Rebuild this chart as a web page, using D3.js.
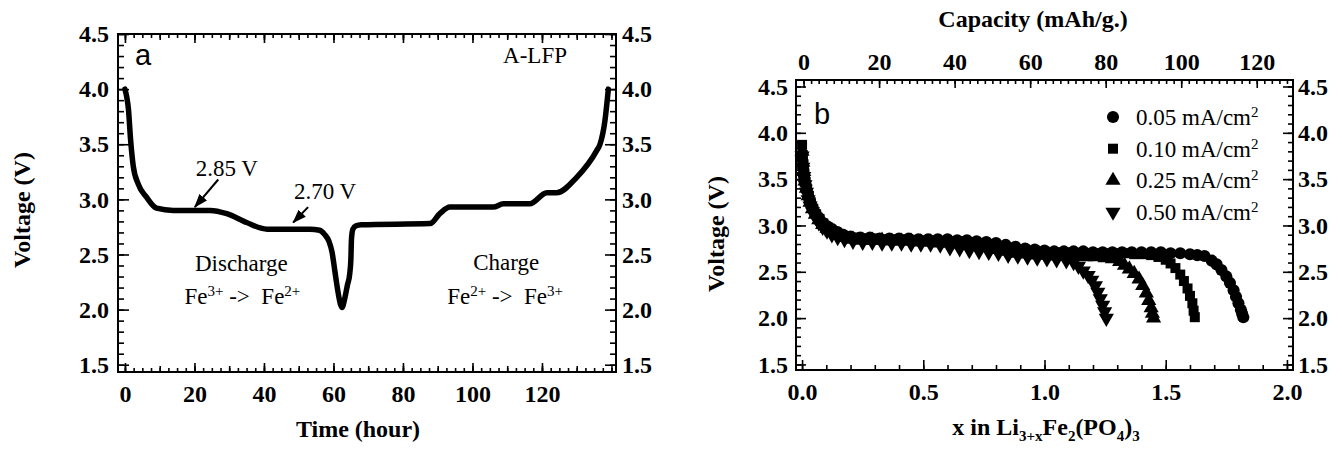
<!DOCTYPE html>
<html>
<head>
<meta charset="utf-8">
<script src="https://cdn.jsdelivr.net/npm/d3@7"></script>
<style>
  body { margin: 0; background: #fff; }
  svg { display: block; }
  text { font-family: "Liberation Serif", "Times New Roman", serif; fill: #000; white-space: pre; }
  .tick text { font-weight: bold; font-size: 24px; }
  .tick line { stroke: #000; stroke-width: 1.6; }
</style>
</head>
<body>
<script>
// ---- data ----
const voltTicks = [1.5, 2.0, 2.5, 3.0, 3.5, 4.0, 4.5];
const timeTicks = [0, 20, 40, 60, 80, 100, 120];
const xTicks = [0, 0.5, 1.0, 1.5, 2.0];
const capTicks = [0, 20, 40, 60, 80, 100, 120];

// panel a : [time (h), voltage (V)]
const cycleA = [
  [0, 4.00], [0.5, 3.93], [1.0, 3.82], [1.6, 3.55], [2.4, 3.30], [3.8, 3.14], [6.2, 3.02],
  [9.1, 2.92], [13.9, 2.90], [24.5, 2.90], [29.3, 2.87], [35, 2.79], [40.9, 2.73], [53.2, 2.73],
  [56, 2.72], [57.5, 2.68], [58.7, 2.62], [59.6, 2.52], [60.4, 2.35], [61.2, 2.18], [62, 2.05],
  [62.5, 2.02], [63.1, 2.08], [64, 2.22], [64.7, 2.33], [65, 2.45], [65.2, 2.65], [65.6, 2.73],
  [66.5, 2.76], [68, 2.77], [87.8, 2.78], [90.6, 2.87], [93.5, 2.93], [106, 2.93], [108.9, 2.96],
  [116.5, 2.96], [121.4, 3.06], [124.2, 3.06], [130, 3.20], [135.7, 3.44], [136.7, 3.50],
  [138.1, 3.71], [139.1, 4.00]
];

// panel b : [x, voltage (V)] per current density
const rate005 = [
  [0, 3.72], [0.004, 3.62], [0.008, 3.53], [0.013, 3.45], [0.019, 3.38], [0.026, 3.31], [0.034, 3.25],
  [0.044, 3.19], [0.056, 3.13], [0.07, 3.08], [0.086, 3.03], [0.104, 2.99], [0.124, 2.96], [0.146, 2.93],
  [0.17, 2.90], [0.2, 2.88], [0.24, 2.87], [0.28, 2.87], [0.32, 2.86], [0.36, 2.86], [0.40, 2.86],
  [0.44, 2.86], [0.48, 2.85], [0.52, 2.85], [0.56, 2.85], [0.60, 2.85], [0.64, 2.84], [0.68, 2.84],
  [0.72, 2.83], [0.76, 2.82], [0.80, 2.81], [0.84, 2.79], [0.88, 2.77], [0.92, 2.75], [0.96, 2.74],
  [1.00, 2.73], [1.04, 2.72], [1.08, 2.72], [1.12, 2.72], [1.16, 2.72], [1.20, 2.71], [1.24, 2.71],
  [1.28, 2.71], [1.32, 2.71], [1.36, 2.71], [1.40, 2.71], [1.44, 2.71], [1.48, 2.71], [1.52, 2.70],
  [1.56, 2.70], [1.60, 2.69], [1.63, 2.68], [1.66, 2.67], [1.69, 2.62], [1.71, 2.58], [1.73, 2.52],
  [1.75, 2.45], [1.765, 2.38], [1.78, 2.30], [1.79, 2.23], [1.80, 2.16], [1.81, 2.09], [1.815, 2.05],
  [1.82, 2.01]
];
const rate010 = [
  [0, 3.87], [0.003, 3.76], [0.006, 3.66], [0.01, 3.56], [0.015, 3.47], [0.021, 3.39], [0.028, 3.32],
  [0.036, 3.25], [0.046, 3.18], [0.058, 3.12], [0.072, 3.07], [0.088, 3.02], [0.106, 2.98], [0.126, 2.94],
  [0.15, 2.91], [0.18, 2.88], [0.21, 2.87], [0.25, 2.86], [0.29, 2.86], [0.33, 2.85], [0.37, 2.85],
  [0.41, 2.85], [0.45, 2.84], [0.49, 2.84], [0.53, 2.84], [0.57, 2.83], [0.61, 2.83], [0.65, 2.83],
  [0.69, 2.82], [0.73, 2.81], [0.77, 2.80], [0.81, 2.78], [0.85, 2.76], [0.89, 2.74], [0.93, 2.73],
  [0.97, 2.72], [1.01, 2.71], [1.05, 2.71], [1.09, 2.71], [1.13, 2.70], [1.17, 2.70], [1.21, 2.70],
  [1.25, 2.70], [1.29, 2.70], [1.33, 2.70], [1.37, 2.69], [1.41, 2.69], [1.44, 2.68], [1.47, 2.66],
  [1.50, 2.63], [1.52, 2.59], [1.54, 2.54], [1.56, 2.47], [1.575, 2.40], [1.59, 2.32], [1.60, 2.24],
  [1.61, 2.16], [1.615, 2.08], [1.62, 2.01]
];
const rate025 = [
  [0, 3.80], [0.003, 3.68], [0.007, 3.58], [0.012, 3.48], [0.018, 3.40], [0.025, 3.32], [0.033, 3.25],
  [0.043, 3.18], [0.055, 3.12], [0.069, 3.06], [0.085, 3.01], [0.103, 2.97], [0.123, 2.93], [0.147, 2.90],
  [0.175, 2.87], [0.21, 2.85], [0.25, 2.84], [0.29, 2.84], [0.33, 2.84], [0.37, 2.83], [0.41, 2.83],
  [0.45, 2.83], [0.49, 2.82], [0.53, 2.82], [0.57, 2.81], [0.61, 2.81], [0.65, 2.80], [0.69, 2.79],
  [0.73, 2.78], [0.77, 2.76], [0.81, 2.74], [0.85, 2.72], [0.89, 2.70], [0.93, 2.69], [0.97, 2.68],
  [1.01, 2.68], [1.05, 2.67], [1.09, 2.67], [1.13, 2.67], [1.17, 2.66], [1.21, 2.66], [1.25, 2.65],
  [1.28, 2.64], [1.31, 2.61], [1.33, 2.57], [1.35, 2.53], [1.37, 2.48], [1.39, 2.42], [1.405, 2.35],
  [1.42, 2.27], [1.43, 2.19], [1.44, 2.11], [1.445, 2.05], [1.45, 2.00]
];
const rate050 = [
  [0, 3.75], [0.003, 3.63], [0.007, 3.53], [0.012, 3.44], [0.018, 3.36], [0.025, 3.28], [0.033, 3.21],
  [0.043, 3.15], [0.055, 3.09], [0.069, 3.03], [0.085, 2.98], [0.103, 2.94], [0.123, 2.90], [0.147, 2.87],
  [0.175, 2.85], [0.21, 2.83], [0.25, 2.82], [0.29, 2.82], [0.33, 2.81], [0.37, 2.81], [0.41, 2.81],
  [0.45, 2.80], [0.49, 2.80], [0.53, 2.80], [0.57, 2.79], [0.61, 2.76], [0.65, 2.75], [0.69, 2.73],
  [0.73, 2.72], [0.77, 2.71], [0.81, 2.70], [0.85, 2.68], [0.89, 2.67], [0.93, 2.66], [0.97, 2.65],
  [1.01, 2.64], [1.05, 2.63], [1.09, 2.62], [1.12, 2.60], [1.14, 2.56], [1.16, 2.51], [1.18, 2.46],
  [1.195, 2.41], [1.21, 2.35], [1.22, 2.28], [1.23, 2.21], [1.24, 2.14], [1.248, 2.07], [1.255, 2.00]
];
const rateLabels = ["0.05", "0.10", "0.25", "0.50"];

// ---- layout ----
const WIDTH = 1342, HEIGHT = 450;

const svg = d3.select("body").append("svg")
  .attr("width", WIDTH)
  .attr("height", HEIGHT);

const xa = d3.scaleLinear().domain([-2, 141.3]).range([118, 616]);
const ya = d3.scaleLinear().domain([1.434, 4.5]).range([372, 34]);
const xb = d3.scaleLinear().domain([-0.025, 2.025]).range([796, 1293]);
const cb = d3.scaleLinear().domain([-2, 129.6]).range([796, 1293]);
const yb = d3.scaleLinear().domain([1.44, 4.57]).range([370, 80]);

const f1 = d3.format(".1f");
const fi = d => d;
const none = () => "";

const addAxis = (gen, pos, isX, vals, size, pad, fmt) => {
  const g = svg.append("g")
    .attr("transform", isX ? `translate(0,${pos})` : `translate(${pos},0)`)
    .call(gen.tickValues(vals).tickSize(-size).tickPadding(pad).tickFormat(fmt));
  g.select(".domain").remove();
  return g;
};

const frame = (x, y) => {
  svg.append("rect")
    .attr("x", x.range()[0]).attr("y", y.range()[1])
    .attr("width", x.range()[1] - x.range()[0])
    .attr("height", y.range()[0] - y.range()[1])
    .attr("fill", "none").attr("stroke", "#000").attr("stroke-width", 2);
};

// ---------- panel a ----------
const minorV = d3.range(15, 46).map(d => d / 10);
const minorT = d3.range(0, 141, 2.5);
const midT = d3.range(0, 141, 10);

addAxis(d3.axisLeft(ya), 118, false, minorV, 6, 0, none);
addAxis(d3.axisLeft(ya), 118, false, voltTicks, 11, 9, f1);
addAxis(d3.axisRight(ya), 616, false, minorV, 6, 0, none);
addAxis(d3.axisRight(ya), 616, false, voltTicks, 11, 6, f1);
addAxis(d3.axisBottom(xa), 372, true, minorT, 4, 0, none);
addAxis(d3.axisBottom(xa), 372, true, midT, 6, 0, none);
addAxis(d3.axisBottom(xa), 372, true, timeTicks, 9, 13, fi);
addAxis(d3.axisTop(xa), 34, true, minorT, 4, 0, none);
addAxis(d3.axisTop(xa), 34, true, midT, 6, 0, none);
addAxis(d3.axisTop(xa), 34, true, timeTicks, 9, 0, none);
frame(xa, ya);

svg.append("path")
  .datum(cycleA)
  .attr("fill", "none")
  .attr("stroke", "#000")
  .attr("stroke-width", 5.5)
  .attr("stroke-linejoin", "round")
  .attr("stroke-linecap", "round")
  .attr("d", d3.line().x(d => xa(d[0])).y(d => ya(d[1])).curve(d3.curveMonotoneX));

// arrows
svg.append("defs").append("marker")
  .attr("id", "head")
  .attr("markerUnits", "userSpaceOnUse")
  .attr("markerWidth", 14).attr("markerHeight", 10)
  .attr("refX", 13).attr("refY", 5)
  .attr("orient", "auto")
  .append("path").attr("d", "M0,0L14,5L0,10Z").attr("fill", "#000");

const arrows = [
  { from: [26.85, 3.18], to: [20.1, 2.93] },
  { from: [52.7, 2.93], to: [48.4, 2.79] }
];
svg.selectAll(".arrow").data(arrows).join("line")
  .attr("class", "arrow")
  .attr("x1", d => xa(d.from[0])).attr("y1", d => ya(d.from[1]))
  .attr("x2", d => xa(d.to[0])).attr("y2", d => ya(d.to[1]))
  .attr("stroke", "#000").attr("stroke-width", 2)
  .attr("marker-end", "url(#head)");

const noteA = [
  { t: 29.3, v: 3.21, s: "2.85 V" },
  { t: 57.6, v: 3.00, s: "2.70 V" },
  { t: 118, v: 4.24, s: "A-LFP" },
  { t: 33.5, v: 2.35, s: "Discharge" },
  { t: 109.7, v: 2.36, s: "Charge" }
];
svg.selectAll(".noteA").data(noteA).join("text")
  .attr("class", "noteA")
  .attr("x", d => xa(d.t)).attr("y", d => ya(d.v))
  .attr("text-anchor", "middle")
  .attr("font-size", 23)
  .text(d => d.s);

const rich = (t, parts, small, up, down) => {
  let cur = 0;
  parts.forEach(([s, k]) => {
    const target = k === "sup" ? -up : k === "sub" ? down : 0;
    t.append("tspan")
      .attr("dy", target - cur)
      .attr("font-size", k ? small : null)
      .text(s);
    cur = target;
  });
};

const fe1 = svg.append("text")
  .attr("x", xa(33.8)).attr("y", ya(2.05))
  .attr("text-anchor", "middle").attr("font-size", 23);
rich(fe1, [["Fe"], ["3+", "sup"], [" ->  Fe"], ["2+", "sup"]], 15, 8, 0);

const fe2 = svg.append("text")
  .attr("x", xa(109.4)).attr("y", ya(2.05))
  .attr("text-anchor", "middle").attr("font-size", 23);
rich(fe2, [["Fe"], ["2+", "sup"], [" ->  Fe"], ["3+", "sup"]], 15, 8, 0);

svg.append("text")
  .attr("x", 143).attr("y", 65)
  .attr("text-anchor", "middle")
  .style("font-family", "'Liberation Sans', Arial, sans-serif")
  .attr("font-size", 29)
  .text("a");

svg.append("text")
  .attr("transform", "translate(30,210) rotate(-90)")
  .attr("text-anchor", "middle")
  .attr("font-size", 24).attr("font-weight", "bold")
  .text("Voltage (V)");

svg.append("text")
  .attr("x", 358).attr("y", 437)
  .attr("text-anchor", "middle")
  .attr("font-size", 24).attr("font-weight", "bold")
  .text("Time (hour)");

// ---------- panel b ----------
const minorX = d3.range(0, 21).map(d => d / 10);
const minorC = d3.range(0, 130, 2);

addAxis(d3.axisLeft(yb), 796, false, minorV, 5, 0, none);
addAxis(d3.axisLeft(yb), 796, false, voltTicks, 10, 8, f1);
addAxis(d3.axisRight(yb), 1293, false, minorV, 5, 0, none);
addAxis(d3.axisRight(yb), 1293, false, voltTicks, 10, 5, f1);
addAxis(d3.axisBottom(xb), 370, true, minorX, 5, 0, none);
addAxis(d3.axisBottom(xb), 370, true, xTicks, 10, 13, f1);
addAxis(d3.axisTop(cb), 80, true, minorC, 4, 0, none);
addAxis(d3.axisTop(cb), 80, true, capTicks, 8, 10, fi);
frame(xb, yb);

const seriesB = [
  { label: rateLabels[0], data: rate005, type: d3.symbolCircle, size: 115, rot: 0 },
  { label: rateLabels[1], data: rate010, type: d3.symbolSquare, size: 100, rot: 0 },
  { label: rateLabels[2], data: rate025, type: d3.symbolTriangle, size: 100, rot: 0 },
  { label: rateLabels[3], data: rate050, type: d3.symbolTriangle, size: 100, rot: 180 }
];

seriesB.slice().reverse().forEach(s => {
  const sym = d3.symbol().type(s.type).size(s.size);
  svg.append("g").selectAll("path")
    .data(s.data)
    .join("path")
    .attr("transform", d => `translate(${xb(d[0])},${yb(d[1])}) rotate(${s.rot})`)
    .attr("d", sym)
    .attr("fill", "#000");
});

// legend
const legend = svg.append("g");
seriesB.forEach((s, i) => {
  const y = 117 + i * 31.7;
  legend.append("path")
    .attr("transform", `translate(1113,${y}) rotate(${s.rot})`)
    .attr("d", d3.symbol().type(s.type).size(s.size))
    .attr("fill", "#000");
  const t = legend.append("text")
    .attr("x", 1136).attr("y", y + 8)
    .attr("font-size", 23);
  rich(t, [[s.label + " mA/cm"], ["2", "sup"]], 15, 8, 0);
});

svg.append("text")
  .attr("x", 822).attr("y", 124)
  .attr("text-anchor", "middle")
  .style("font-family", "'Liberation Sans', Arial, sans-serif")
  .attr("font-size", 29)
  .text("b");

svg.append("text")
  .attr("transform", "translate(724,234) rotate(-90)")
  .attr("text-anchor", "middle")
  .attr("font-size", 24).attr("font-weight", "bold")
  .text("Voltage (V)");

svg.append("text")
  .attr("x", 1033).attr("y", 27)
  .attr("text-anchor", "middle")
  .attr("font-size", 24).attr("font-weight", "bold")
  .text("Capacity (mAh/g.)");

const xt = svg.append("text")
  .attr("x", 1046).attr("y", 435)
  .attr("text-anchor", "middle")
  .attr("font-size", 24).attr("font-weight", "bold");
rich(xt, [["x in Li"], ["3+x", "sub"], ["Fe"], ["2", "sub"], ["(PO"], ["4", "sub"], [")"], ["3", "sub"]], 15, 0, 6);
</script>
</body>
</html>
